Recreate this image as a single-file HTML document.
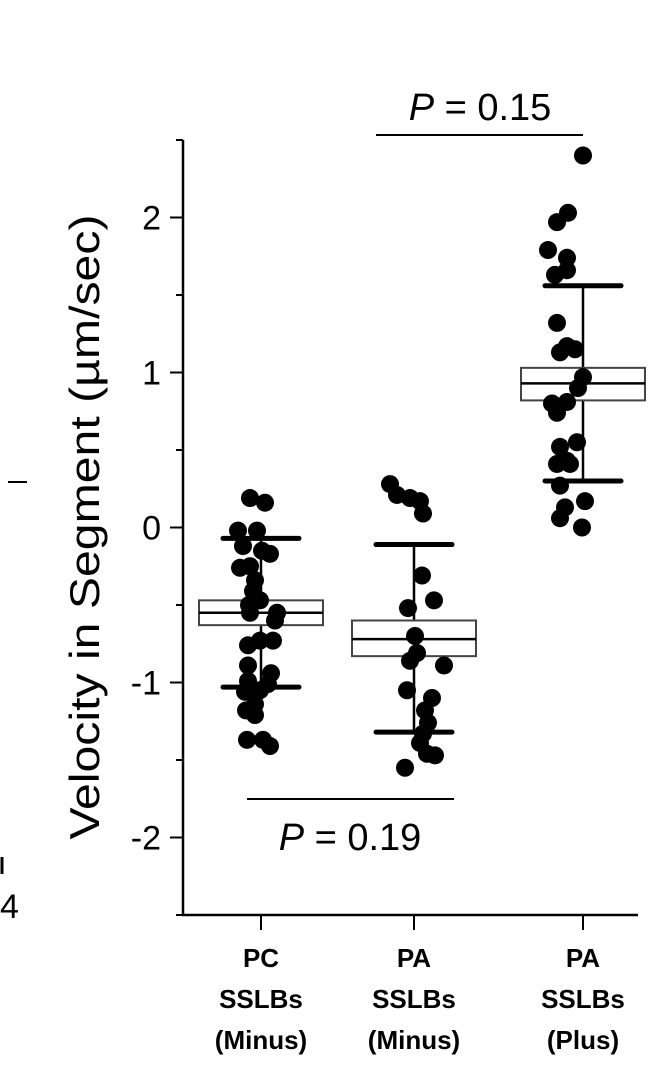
<!DOCTYPE html>
<html><head><meta charset="utf-8"><style>
body{margin:0;background:#fff;width:648px;height:1072px;overflow:hidden}
svg text{font-family:"Liberation Sans",Arial,sans-serif;fill:#000}
</style></head><body>
<svg id="chart" width="648" height="1072" xmlns="http://www.w3.org/2000/svg">
<g id="axes"></g>
<g id="boxes"></g>
<g id="dots"></g>
<text transform="translate(99,527) rotate(-90)" text-anchor="middle" font-size="42" textLength="625" lengthAdjust="spacingAndGlyphs">Velocity in Segment (µm/sec)</text>
<line x1="376" y1="135" x2="583" y2="135" stroke="#000" stroke-width="2"/>
<text x="480" y="120" text-anchor="middle" font-size="38"><tspan font-style="italic">P</tspan> = 0.15</text>
<line x1="247" y1="799" x2="454" y2="799" stroke="#000" stroke-width="2"/>
<text x="350" y="850" text-anchor="middle" font-size="38"><tspan font-style="italic">P</tspan> = 0.19</text>
<line x1="8" y1="482" x2="27" y2="482" stroke="#000" stroke-width="2"/>
<line x1="2" y1="857" x2="2" y2="874" stroke="#000" stroke-width="3"/>
<text x="0" y="918" font-size="34">4</text>
</svg>
<script>
const categories=[["PC","SSLBs","(Minus)"],["PA","SSLBs","(Minus)"],["PA","SSLBs","(Plus)"]];
const yTicks=[-2,-1,0,1,2];
const boxQ1=[-0.63,-0.83,0.82];
const boxMedian=[-0.55,-0.72,0.93];
const boxQ3=[-0.47,-0.60,1.03];
const whiskerLow=[-1.03,-1.32,0.30];
const whiskerHigh=[-0.07,-0.11,1.56];
const vals0=[0.19,0.16,-0.02,-0.02,-0.12,-0.15,-0.17,-0.25,-0.26,-0.34,-0.41,-0.47,-0.50,-0.55,-0.55,-0.60,-0.76,-0.73,-0.73,-0.89,-0.94,-0.99,-1.01,-1.06,-1.05,-1.14,-1.18,-1.21,-1.37,-1.37,-1.41];
const jit0=[-11,4,-23,-4,-18,1,9,-11,-21,-6,-8,-1,-12,-11,16,14,-13,-1,12,-13,10,-13,7,-16,-1,-6,-15,-6,-14,2,9];
const vals1=[0.28,0.19,0.21,0.17,0.09,-0.31,-0.52,-0.47,-0.70,-0.81,-0.86,-0.89,-1.05,-1.10,-1.18,-1.26,-1.33,-1.39,-1.46,-1.47,-1.55];
const jit1=[-24,-4,-17,6,9,8,-6,20,1,3,-4,30,-7,18,11,14,9,6,13,21,-9];
const vals2=[2.40,2.03,1.97,1.79,1.74,1.66,1.63,1.32,1.17,1.13,1.15,0.97,0.90,0.80,0.81,0.74,0.55,0.52,0.43,0.41,0.41,0.27,0.17,0.13,0.06,0.00];
const jit2=[0,-15,-26,-35,-16,-16,-28,-26,-16,-23,-8,0,-5,-31,-16,-26,-6,-23,-16,-26,-13,-23,2,-18,-23,-1];
const allVals=[vals0,vals1,vals2], allJit=[jit0,jit1,jit2];
const NS="http://www.w3.org/2000/svg";
const yMin=-2.5,yMax=2.5,plotTop=140,plotBot=915,plotLeft=183,plotRight=638;
const ys=v=>plotBot-(v-yMin)/(yMax-yMin)*(plotBot-plotTop);
const xCenters=[261,414,583];
const xs=i=>xCenters[i];
function mk(t,a,p){const e=document.createElementNS(NS,t);for(const k in a)e.setAttribute(k,a[k]);p.appendChild(e);return e;}
const ax=document.getElementById('axes'),bx=document.getElementById('boxes'),dt=document.getElementById('dots');
let l=mk('line',{x1:plotLeft,y1:plotTop,x2:plotLeft,y2:plotBot,stroke:'#000','stroke-width':2.5},ax);


l=mk('line',{x1:plotLeft-1,y1:plotBot,x2:plotRight,y2:plotBot,stroke:'#000','stroke-width':2.5},ax);


for(let v=-2.5;v<=2.5001;v+=0.5){const maj=Math.abs(v-Math.round(v))<1e-6;
 const t=mk('line',{x1:plotLeft-(maj?13:7),y1:ys(v),x2:plotLeft,y2:ys(v),stroke:'#000','stroke-width':2},ax);
 
 }
yTicks.forEach(v=>{const t=mk('text',{x:161,y:ys(v)+12,'text-anchor':'end','font-size':34},ax);t.textContent=v;
 
 });
categories.forEach((c,i)=>{const x=xs(i);
 const t=mk('line',{x1:x,y1:plotBot,x2:x,y2:plotBot+15,stroke:'#000','stroke-width':2},ax);
 
 
 const tx=mk('text',{'text-anchor':'middle','font-size':26,'font-weight':'bold'},ax);
 
 
 c.forEach((s,j)=>{const ts=mk('tspan',{x:x,y:967+j*41},tx);ts.textContent=s;});
});
categories.forEach((c,i)=>{const x=xs(i);
 const w=mk('line',{x1:x,y1:ys(whiskerHigh[i]),x2:x,y2:ys(whiskerLow[i]),stroke:'#000','stroke-width':2.5},bx);
 
 
 [whiskerHigh[i],whiskerLow[i]].forEach(v=>{const cp=mk('line',{x1:x-38,y1:ys(v),x2:x+38,y2:ys(v),stroke:'#000','stroke-width':5,'stroke-linecap':'round'},bx);
  
  });
 const r=mk('rect',{x:x-62,y:ys(boxQ3[i]),width:124,height:ys(boxQ1[i])-ys(boxQ3[i]),fill:'#fff',stroke:'#444','stroke-width':2},bx);
 
 
 const m=mk('line',{x1:x-62,y1:ys(boxMedian[i]),x2:x+62,y2:ys(boxMedian[i]),stroke:'#000','stroke-width':2.5},bx);
 
 
 allVals[i].forEach((v,k)=>{const d=mk('circle',{cx:x+allJit[i][k],cy:ys(v),r:9,fill:'#000'},dt);
  
  });
});
</script>
</body></html>
